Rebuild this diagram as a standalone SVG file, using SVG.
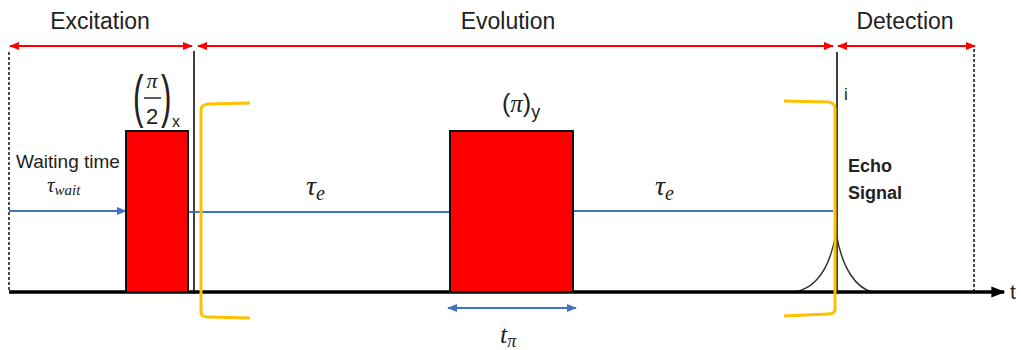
<svg xmlns="http://www.w3.org/2000/svg" width="1021" height="350" viewBox="0 0 1021 350">
<defs>
<marker id="ra" viewBox="0 0 10 10" refX="9" refY="5" markerWidth="10" markerHeight="10" orient="auto-start-reverse" markerUnits="userSpaceOnUse"><path d="M0,1 L10,5 L0,9 z" fill="#ff0000"/></marker>
<marker id="ba" viewBox="0 0 10 10" refX="9" refY="5" markerWidth="10" markerHeight="10" orient="auto-start-reverse" markerUnits="userSpaceOnUse"><path d="M0,1 L10,5 L0,9 z" fill="#4472c4"/></marker>
<marker id="ka" viewBox="0 0 10 10" refX="9" refY="5" markerWidth="14" markerHeight="14" orient="auto" markerUnits="userSpaceOnUse"><path d="M0,1 L10,5 L0,9 z" fill="#000"/></marker>
<style>
.lbl{font-family:"Liberation Sans",Arial,sans-serif;fill:#222;}
.math{font-family:"Liberation Serif","DejaVu Serif",serif;font-style:italic;fill:#222;}
.red{stroke:#ff0000;stroke-width:2;fill:none;}
.blue{stroke:#4472c4;stroke-width:2;fill:none;}
.dash{stroke:#111;stroke-width:1.5;stroke-dasharray:3,2;fill:none;}
.pulse{fill:#ff0000;stroke:#111;stroke-width:2;}
.brk{stroke:#ffc000;stroke-width:3;fill:none;}
</style>
</defs>
<rect width="1021" height="350" fill="#fff"/>
<g id="connectors">
<line class="red" x1="10" y1="46" x2="192" y2="46" marker-start="url(#ra)" marker-end="url(#ra)"/>
<line class="red" x1="198" y1="46" x2="833" y2="46" marker-start="url(#ra)" marker-end="url(#ra)"/>
<line class="red" x1="838" y1="46" x2="975" y2="46" marker-start="url(#ra)" marker-end="url(#ra)"/>
<line class="dash" x1="9" y1="52" x2="9" y2="292"/>
<line class="dash" x1="974" y1="49" x2="974" y2="292"/>
<line x1="194" y1="51" x2="194" y2="294" stroke="#000" stroke-width="1.5"/>
<line x1="837" y1="52" x2="837" y2="294" stroke="#000" stroke-width="1.5"/>
<line class="blue" x1="9" y1="211" x2="126" y2="211" marker-end="url(#ba)"/>
<line class="blue" x1="188" y1="212" x2="450" y2="212"/>
<line class="blue" x1="573" y1="211" x2="833" y2="211"/>
<line class="blue" x1="448" y1="308" x2="576" y2="308" marker-start="url(#ba)" marker-end="url(#ba)"/>
<path d="M795,292 C815,288 830,270 836,232 C842,270 857,288 872,292" stroke="#333" stroke-width="1.5" fill="none"/>
<line x1="9" y1="292" x2="1004" y2="292" stroke="#000" stroke-width="3.5" marker-end="url(#ka)"/>
</g>
<g id="pulse1"><rect class="pulse" x="126" y="131" width="62" height="161"/></g>
<g id="pulse2"><rect class="pulse" x="450" y="131" width="123" height="161"/></g>
<g id="bracket-left"><path class="brk" d="M250,103 L208,104 Q201,105 201,110 L201,312 Q201,317 208,317 L250,318"/></g>
<g id="bracket-right"><path class="brk" d="M784,101 L828,102 Q835,103 835,108 L835,309 Q835,314 828,314 L784,316"/></g>
<g id="labels">
<text class="lbl" x="100" y="29" font-size="23" text-anchor="middle">Excitation</text>
<text class="lbl" x="508" y="29" font-size="23" text-anchor="middle">Evolution</text>
<text class="lbl" x="905" y="29" font-size="23" text-anchor="middle">Detection</text>
<text class="lbl" x="68" y="168" font-size="19" text-anchor="middle">Waiting time</text>
<text class="math" x="47" y="192" font-size="21">τ<tspan font-size="15" dy="3">wait</tspan></text>
<text class="math" x="306" y="195" font-size="28">τ<tspan font-size="20" dy="5">e</tspan></text>
<text class="math" x="655" y="195" font-size="28">τ<tspan font-size="20" dy="5">e</tspan></text>
<text class="math" x="500" y="343" font-size="26">t<tspan font-size="18" dy="4">π</tspan></text>
<text class="lbl" x="844" y="100" font-size="17">i</text>
<text class="lbl" x="848" y="172" font-size="18" font-weight="bold" fill="#000">Echo</text>
<text class="lbl" x="848" y="199" font-size="18" font-weight="bold" fill="#000">Signal</text>
<text class="lbl" x="1010" y="299" font-size="21">t</text>
<g id="pi-half">
<text class="lbl" font-size="57" transform="translate(133,116) scale(0.55,1)">(</text>
<text class="math" x="152" y="88" font-size="22" text-anchor="middle">π</text>
<line x1="144" y1="98" x2="161" y2="98" stroke="#222" stroke-width="1.5"/>
<text class="lbl" x="152" y="124" font-size="22" text-anchor="middle">2</text>
<text class="lbl" font-size="57" transform="translate(161,116) scale(0.55,1)">)</text>
<text class="lbl" x="172" y="127" font-size="16">x</text>
</g>
<text class="lbl" x="502" y="112" font-size="25">(<tspan class="math" font-family="Liberation Serif" font-style="italic">π</tspan>)<tspan font-size="18" dy="6">y</tspan></text>
</g>
</svg>
